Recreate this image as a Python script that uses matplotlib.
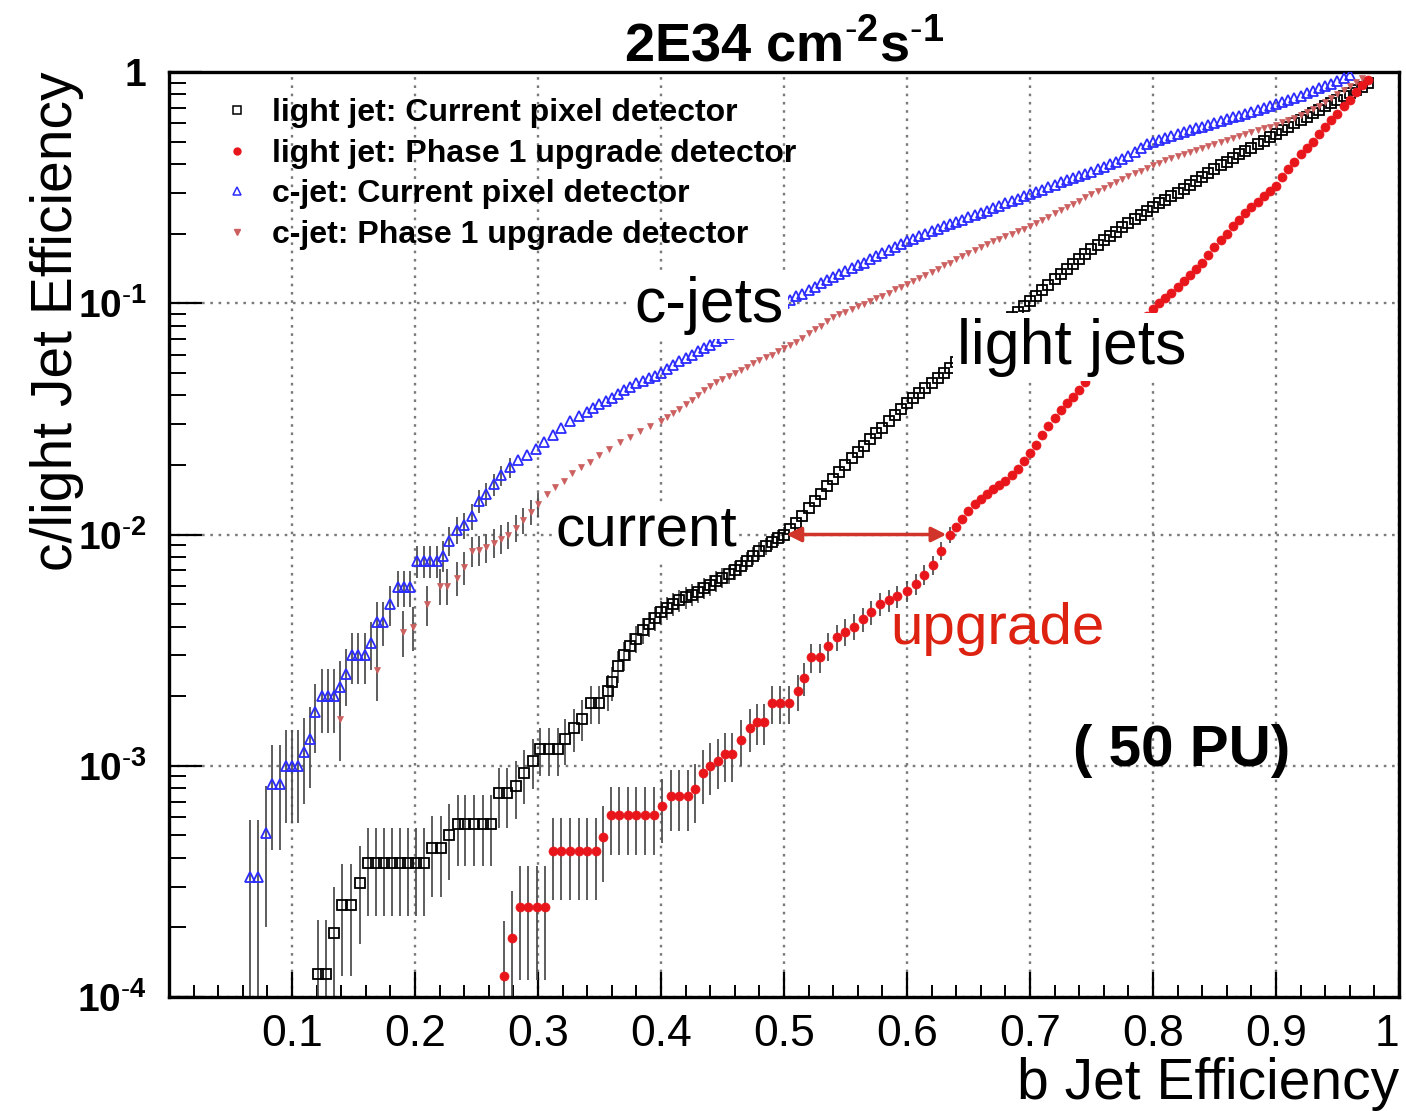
import numpy as np
import matplotlib
matplotlib.use("Agg")
import matplotlib.pyplot as plt
from matplotlib.lines import Line2D
from matplotlib.ticker import MultipleLocator, FixedLocator, FixedFormatter, LogLocator, NullFormatter

plt.rcParams['font.family'] = 'Liberation Sans'
plt.rcParams['mathtext.fontset'] = 'custom'
plt.rcParams['mathtext.rm'] = 'Liberation Sans'
plt.rcParams['mathtext.bf'] = 'Liberation Sans:bold'
plt.rcParams['mathtext.it'] = 'Liberation Sans:italic'

# ---------------------------------------------------------
# Data
# ---------------------------------------------------------
# light jet, current pixel detector (open squares)
light_cur_x = [0.121, 0.128, 0.134, 0.141, 0.148, 0.155, 0.162, 0.168, 0.175, 0.181,
               0.188, 0.194, 0.201, 0.207, 0.214, 0.221, 0.228, 0.235, 0.241, 0.248,
               0.255, 0.262, 0.268, 0.275, 0.282, 0.289, 0.296, 0.302, 0.309, 0.316,
               0.322, 0.329, 0.336, 0.343, 0.350, 0.357,
               0.360, 0.365, 0.370, 0.375, 0.380, 0.385, 0.390, 0.395, 0.400, 0.405,
               0.410, 0.415, 0.420, 0.425, 0.430, 0.435, 0.440, 0.445, 0.450, 0.455,
               0.460, 0.465, 0.470, 0.475, 0.480, 0.485, 0.490, 0.495, 0.500, 0.505,
               0.510, 0.515, 0.520, 0.525, 0.530, 0.535, 0.540, 0.545, 0.550, 0.555,
               0.560, 0.565, 0.570, 0.575, 0.580, 0.585, 0.590, 0.595, 0.600, 0.605,
               0.610, 0.615, 0.620, 0.625, 0.630, 0.635, 0.640, 0.645, 0.650, 0.655,
               0.660, 0.665, 0.670, 0.675, 0.680, 0.685, 0.690, 0.695, 0.700, 0.705,
               0.710, 0.715, 0.720, 0.725, 0.730, 0.735, 0.740, 0.745, 0.750, 0.755,
               0.760, 0.765, 0.770, 0.775, 0.780, 0.785, 0.790, 0.795, 0.800, 0.805,
               0.810, 0.815, 0.820, 0.825, 0.830, 0.835, 0.840, 0.845, 0.850, 0.855,
               0.860, 0.865, 0.870, 0.875, 0.880, 0.885, 0.890, 0.895, 0.900, 0.905,
               0.910, 0.915, 0.920, 0.925, 0.930, 0.935, 0.940, 0.945, 0.950, 0.955,
               0.960, 0.965, 0.970, 0.975]
light_cur_y = [1.26e-4, 1.26e-4, 1.9e-4, 2.5e-4, 2.5e-4, 3.1e-4, 3.8e-4, 3.8e-4, 3.8e-4, 3.8e-4,
               3.8e-4, 3.8e-4, 3.8e-4, 3.8e-4, 4.4e-4, 4.4e-4, 5.0e-4, 5.6e-4, 5.6e-4, 5.6e-4,
               5.6e-4, 5.6e-4, 7.6e-4, 7.6e-4, 8.2e-4, 9.3e-4, 1.05e-3, 1.18e-3, 1.18e-3, 1.18e-3,
               1.3e-3, 1.45e-3, 1.6e-3, 1.86e-3, 1.86e-3, 2.1e-3,
               2.3e-3, 2.7e-3, 3.0e-3, 3.3e-3, 3.55e-3, 3.85e-3, 4.1e-3, 4.35e-3, 4.6e-3, 4.8e-3,
               5.0e-3, 5.2e-3, 5.35e-3, 5.5e-3, 5.65e-3, 5.85e-3, 6.05e-3, 6.3e-3, 6.5e-3, 6.75e-3,
               7.0e-3, 7.3e-3, 7.7e-3, 8.1e-3, 8.5e-3, 8.9e-3, 9.3e-3, 9.7e-3, 1.0e-2, 1.06e-2,
               1.12e-2, 1.2e-2, 1.3e-2, 1.4e-2, 1.5e-2, 1.62e-2, 1.74e-2, 1.86e-2, 2.0e-2, 2.14e-2,
               2.28e-2, 2.42e-2, 2.58e-2, 2.74e-2, 2.9e-2, 3.1e-2, 3.3e-2, 3.5e-2, 3.7e-2, 3.9e-2,
               4.1e-2, 4.3e-2, 4.5e-2, 4.75e-2, 5.0e-2, 5.25e-2, 5.55e-2, 5.85e-2, 6.15e-2, 6.45e-2,
               6.8e-2, 7.1e-2, 7.5e-2, 7.9e-2, 8.3e-2, 8.7e-2, 9.2e-2, 9.7e-2, 0.102, 0.108,
               0.114, 0.12, 0.127, 0.134, 0.141, 0.148, 0.155, 0.163, 0.171, 0.179,
               0.187, 0.195, 0.204, 0.213, 0.222, 0.231, 0.24, 0.25, 0.26, 0.27,
               0.28, 0.29, 0.30, 0.312, 0.325, 0.337, 0.35, 0.365, 0.38, 0.395,
               0.41, 0.425, 0.44, 0.455, 0.47, 0.487, 0.505, 0.522, 0.54, 0.56,
               0.58, 0.6, 0.62, 0.642, 0.665, 0.687, 0.71, 0.735, 0.76, 0.785,
               0.81, 0.838, 0.865, 0.9]
light_cur_err = [9e-5, 9e-5, 1.1e-4, 1.27e-4, 1.27e-4, 1.4e-4, 1.56e-4, 1.56e-4, 1.56e-4, 1.56e-4,
                 1.56e-4, 1.56e-4, 1.56e-4, 1.56e-4, 1.68e-4, 1.68e-4, 1.8e-4, 1.9e-4, 1.9e-4, 1.9e-4,
                 1.9e-4, 1.9e-4, 2.2e-4, 2.2e-4, 2.3e-4, 2.45e-4, 2.6e-4, 2.75e-4, 2.75e-4, 2.75e-4,
                 2.9e-4, 3.05e-4, 3.2e-4, 3.45e-4, 3.45e-4, 3.7e-4,
                 3.85e-4, 4.2e-4, 4.4e-4, 4.6e-4, 4.75e-4, 5.0e-4, 5.1e-4, 5.3e-4, 5.4e-4, 5.5e-4,
                 5.7e-4, 5.8e-4, 5.85e-4, 5.9e-4, 6.0e-4, 6.1e-4, 6.2e-4, 6.35e-4, 6.45e-4, 6.6e-4,
                 6.7e-4, 6.85e-4, 7.0e-4, 7.2e-4, 7.4e-4, 7.55e-4, 7.7e-4, 7.9e-4, 8.0e-4]

# light jet, phase 1 upgrade detector (filled circles)
light_upg_x = [0.272, 0.279, 0.285, 0.292, 0.299, 0.306, 0.312, 0.319, 0.326, 0.333,
               0.340, 0.347, 0.353, 0.359, 0.366, 0.373, 0.380, 0.387, 0.394, 0.401,
               0.408, 0.415, 0.422, 0.428, 0.434, 0.440, 0.446, 0.452, 0.458, 0.465,
               0.472, 0.478, 0.484, 0.490, 0.497, 0.504, 0.511, 0.516, 0.522, 0.529,
               0.536, 0.543, 0.550, 0.557, 0.564, 0.571, 0.578, 0.585, 0.592, 0.600,
               0.607, 0.614, 0.621, 0.628, 0.635,
               0.640, 0.645, 0.650, 0.655, 0.660, 0.665, 0.670, 0.675, 0.680, 0.685,
               0.690, 0.695, 0.700, 0.705, 0.710, 0.715, 0.720, 0.725, 0.730, 0.735,
               0.740, 0.745, 0.750, 0.755, 0.760, 0.765, 0.770, 0.775, 0.780, 0.785,
               0.790, 0.795, 0.800, 0.805, 0.810, 0.815, 0.820, 0.825, 0.830, 0.835,
               0.840, 0.845, 0.850, 0.855, 0.860, 0.865, 0.870, 0.875, 0.880, 0.885,
               0.890, 0.895, 0.900, 0.905, 0.910, 0.915, 0.920, 0.925, 0.930, 0.935,
               0.940, 0.945, 0.950, 0.955, 0.960, 0.965, 0.970, 0.975]
light_upg_y = [1.23e-4, 1.8e-4, 2.44e-4, 2.44e-4, 2.44e-4, 2.44e-4, 4.3e-4, 4.3e-4, 4.3e-4, 4.3e-4,
               4.3e-4, 4.3e-4, 4.9e-4, 6.1e-4, 6.1e-4, 6.1e-4, 6.1e-4, 6.1e-4, 6.1e-4, 6.7e-4,
               7.4e-4, 7.4e-4, 7.4e-4, 7.9e-4, 9.3e-4, 1.0e-3, 1.05e-3, 1.12e-3, 1.12e-3, 1.29e-3,
               1.45e-3, 1.54e-3, 1.54e-3, 1.86e-3, 1.86e-3, 1.86e-3, 2.1e-3, 2.4e-3, 2.94e-3, 2.94e-3,
               3.3e-3, 3.6e-3, 3.8e-3, 4.0e-3, 4.3e-3, 4.6e-3, 5.0e-3, 5.2e-3, 5.4e-3, 5.7e-3,
               6.1e-3, 6.7e-3, 7.4e-3, 8.5e-3, 1.0e-2,
               1.08e-2, 1.17e-2, 1.26e-2, 1.35e-2, 1.42e-2, 1.5e-2, 1.57e-2, 1.63e-2, 1.7e-2, 1.8e-2,
               1.92e-2, 2.07e-2, 2.25e-2, 2.45e-2, 2.7e-2, 2.95e-2, 3.2e-2, 3.45e-2, 3.7e-2, 3.95e-2,
               4.2e-2, 4.55e-2, 4.9e-2, 5.25e-2, 5.6e-2, 6.0e-2, 6.4e-2, 6.85e-2, 7.3e-2, 7.8e-2,
               8.3e-2, 8.85e-2, 9.4e-2, 0.1, 0.105, 0.111, 0.118, 0.125, 0.132, 0.14,
               0.15, 0.162, 0.175, 0.187, 0.2, 0.215, 0.23, 0.245, 0.26, 0.275,
               0.29, 0.305, 0.32, 0.35, 0.38, 0.41, 0.44, 0.47, 0.5, 0.54,
               0.58, 0.62, 0.66, 0.71, 0.76, 0.82, 0.88, 0.92]
light_upg_err = [9e-5, 1.07e-4, 1.25e-4, 1.25e-4, 1.25e-4, 1.25e-4, 1.66e-4, 1.66e-4, 1.66e-4, 1.66e-4,
                 1.66e-4, 1.66e-4, 1.77e-4, 1.98e-4, 1.98e-4, 1.98e-4, 1.98e-4, 1.98e-4, 1.98e-4, 2.07e-4,
                 2.18e-4, 2.18e-4, 2.18e-4, 2.25e-4, 2.44e-4, 2.53e-4, 2.6e-4, 2.68e-4, 2.68e-4, 2.88e-4,
                 3.05e-4, 3.14e-4, 3.14e-4, 3.45e-4, 3.45e-4, 3.45e-4, 3.67e-4, 3.92e-4, 4.34e-4, 4.34e-4,
                 4.6e-4, 4.8e-4, 4.9e-4, 5.1e-4, 5.25e-4, 5.4e-4, 5.7e-4, 5.8e-4, 5.9e-4, 6.0e-4,
                 6.2e-4, 6.5e-4, 6.9e-4, 7.4e-4, 8.0e-4]

# c-jet, current pixel detector (open triangles)
c_cur_x = [0.066, 0.072, 0.079, 0.084, 0.090, 0.095, 0.100, 0.105, 0.110, 0.115,
           0.119, 0.124, 0.129, 0.134, 0.139, 0.144, 0.149, 0.154, 0.159, 0.164,
           0.169, 0.174, 0.180, 0.186, 0.191, 0.196, 0.202, 0.207, 0.212, 0.218,
           0.223, 0.228, 0.234, 0.240, 0.246, 0.252, 0.258, 0.264, 0.270, 0.277,
           0.284, 0.291, 0.298, 0.305, 0.312, 0.319, 0.326, 0.333, 0.340,
           0.345, 0.350, 0.355, 0.360, 0.365, 0.370, 0.375, 0.380, 0.385, 0.390,
           0.395, 0.400, 0.405, 0.410, 0.415, 0.420, 0.425, 0.430, 0.435, 0.440,
           0.445, 0.450, 0.455, 0.460, 0.465, 0.470, 0.475, 0.480, 0.485, 0.490,
           0.495, 0.500, 0.505, 0.510, 0.515, 0.520, 0.525, 0.530, 0.535, 0.540,
           0.545, 0.550, 0.555, 0.560, 0.565, 0.570, 0.575, 0.580, 0.585, 0.590,
           0.595, 0.600, 0.605, 0.610, 0.615, 0.620, 0.625, 0.630, 0.635, 0.640,
           0.645, 0.650, 0.655, 0.660, 0.665, 0.670, 0.675, 0.680, 0.685, 0.690,
           0.695, 0.700, 0.705, 0.710, 0.715, 0.720, 0.725, 0.730, 0.735, 0.740,
           0.745, 0.750, 0.755, 0.760, 0.765, 0.770, 0.775, 0.780, 0.785, 0.790,
           0.795, 0.800, 0.805, 0.810, 0.815, 0.820, 0.825, 0.830, 0.835, 0.840,
           0.845, 0.850, 0.855, 0.860, 0.865, 0.870, 0.875, 0.880, 0.885, 0.890,
           0.895, 0.900, 0.905, 0.910, 0.915, 0.920, 0.925, 0.930, 0.935, 0.940,
           0.945, 0.950, 0.955, 0.960]
c_cur_y = [3.3e-4, 3.3e-4, 5.1e-4, 8.3e-4, 8.3e-4, 1.0e-3, 1.0e-3, 1.0e-3, 1.15e-3, 1.3e-3,
           1.7e-3, 2.0e-3, 2.0e-3, 2.0e-3, 2.2e-3, 2.5e-3, 3.0e-3, 3.0e-3, 3.0e-3, 3.4e-3,
           4.2e-3, 4.2e-3, 5.0e-3, 5.9e-3, 5.9e-3, 5.9e-3, 7.7e-3, 7.7e-3, 7.7e-3, 7.7e-3,
           8.1e-3, 9.4e-3, 1.05e-2, 1.1e-2, 1.2e-2, 1.4e-2, 1.5e-2, 1.65e-2, 1.8e-2, 1.95e-2,
           2.1e-2, 2.2e-2, 2.35e-2, 2.5e-2, 2.7e-2, 2.9e-2, 3.1e-2, 3.25e-2, 3.4e-2,
           3.52e-2, 3.65e-2, 3.78e-2, 3.9e-2, 4.05e-2, 4.2e-2, 4.35e-2, 4.5e-2, 4.62e-2, 4.75e-2,
           4.87e-2, 5.0e-2, 5.2e-2, 5.4e-2, 5.6e-2, 5.8e-2, 6.0e-2, 6.2e-2, 6.4e-2, 6.6e-2,
           6.85e-2, 7.1e-2, 7.35e-2, 7.6e-2, 7.85e-2, 8.1e-2, 8.4e-2, 8.7e-2, 9.0e-2, 9.3e-2,
           9.65e-2, 0.1, 0.103, 0.107, 0.11, 0.114, 0.118, 0.122, 0.126, 0.13,
           0.134, 0.138, 0.142, 0.146, 0.15, 0.155, 0.16, 0.165, 0.17, 0.175,
           0.18, 0.185, 0.19, 0.195, 0.2, 0.205, 0.21, 0.215, 0.22, 0.225,
           0.23, 0.235, 0.24, 0.245, 0.251, 0.258, 0.264, 0.27, 0.276, 0.283,
           0.29, 0.296, 0.303, 0.31, 0.318, 0.325, 0.333, 0.34, 0.348, 0.355,
           0.363, 0.37, 0.38, 0.39, 0.4, 0.41, 0.42, 0.435, 0.45, 0.47,
           0.49, 0.5, 0.51, 0.52, 0.53, 0.54, 0.55, 0.56, 0.57, 0.58,
           0.59, 0.6, 0.612, 0.624, 0.636, 0.648, 0.66, 0.673, 0.686, 0.7,
           0.715, 0.73, 0.745, 0.76, 0.775, 0.79, 0.81, 0.83, 0.85, 0.87,
           0.89, 0.915, 0.94, 0.97]
c_cur_err = [2.5e-4, 2.5e-4, 3.1e-4, 3.96e-4, 3.96e-4, 4.34e-4, 4.34e-4, 4.34e-4, 4.66e-4, 4.95e-4,
             5.66e-4, 6.1e-4, 6.1e-4, 6.1e-4, 6.4e-4, 6.9e-4, 7.5e-4, 7.5e-4, 7.5e-4, 8.0e-4,
             8.9e-4, 8.9e-4, 9.7e-4, 1.05e-3, 1.05e-3, 1.05e-3, 1.2e-3, 1.2e-3, 1.2e-3, 1.2e-3,
             1.24e-3, 1.33e-3, 1.4e-3, 1.44e-3, 1.5e-3, 1.6e-3, 1.7e-3, 1.76e-3, 1.84e-3, 1.92e-3]

# c-jet, phase 1 upgrade detector (small down triangles)
c_upg_x = [0.139, 0.169, 0.190, 0.198, 0.210, 0.220, 0.226, 0.234, 0.240, 0.246,
           0.252, 0.258, 0.264, 0.270, 0.276, 0.282, 0.288, 0.294, 0.300, 0.307,
           0.314, 0.321, 0.328, 0.335, 0.342, 0.350, 0.358, 0.367, 0.375, 0.383,
           0.391, 0.400,
           0.405, 0.410, 0.415, 0.420, 0.425, 0.430, 0.435, 0.440, 0.445, 0.450,
           0.455, 0.460, 0.465, 0.470, 0.475, 0.480, 0.485, 0.490, 0.495, 0.500,
           0.505, 0.510, 0.515, 0.520, 0.525, 0.530, 0.535, 0.540, 0.545, 0.550,
           0.555, 0.560, 0.565, 0.570, 0.575, 0.580, 0.585, 0.590, 0.595, 0.600,
           0.605, 0.610, 0.615, 0.620, 0.625, 0.630, 0.635, 0.640, 0.645, 0.650,
           0.655, 0.660, 0.665, 0.670, 0.675, 0.680, 0.685, 0.690, 0.695, 0.700,
           0.705, 0.710, 0.715, 0.720, 0.725, 0.730, 0.735, 0.740, 0.745, 0.750,
           0.755, 0.760, 0.765, 0.770, 0.775, 0.780, 0.785, 0.790, 0.795, 0.800,
           0.805, 0.810, 0.815, 0.820, 0.825, 0.830, 0.835, 0.840, 0.845, 0.850,
           0.855, 0.860, 0.865, 0.870, 0.875, 0.880, 0.885, 0.890, 0.895, 0.900,
           0.905, 0.910, 0.915, 0.920, 0.925, 0.930, 0.935, 0.940, 0.945, 0.950,
           0.955, 0.960, 0.965, 0.970]
c_upg_y = [1.6e-3, 2.6e-3, 3.8e-3, 4.0e-3, 5.0e-3, 6.0e-3, 6.0e-3, 6.5e-3, 7.2e-3, 8.5e-3,
           8.6e-3, 8.8e-3, 9.2e-3, 9.6e-3, 1.0e-2, 1.07e-2, 1.15e-2, 1.25e-2, 1.35e-2, 1.5e-2,
           1.6e-2, 1.7e-2, 1.85e-2, 1.95e-2, 2.05e-2, 2.2e-2, 2.35e-2, 2.5e-2, 2.65e-2, 2.8e-2,
           2.95e-2, 3.1e-2,
           3.22e-2, 3.35e-2, 3.5e-2, 3.65e-2, 3.82e-2, 4.0e-2, 4.2e-2, 4.4e-2, 4.55e-2, 4.7e-2,
           4.85e-2, 5.0e-2, 5.15e-2, 5.3e-2, 5.5e-2, 5.7e-2, 5.85e-2, 6.0e-2, 6.2e-2, 6.4e-2,
           6.6e-2, 6.8e-2, 7.1e-2, 7.4e-2, 7.7e-2, 8.0e-2, 8.35e-2, 8.7e-2, 8.95e-2, 9.2e-2,
           9.45e-2, 9.7e-2, 9.95e-2, 0.102, 0.105, 0.108, 0.111, 0.115, 0.118, 0.121,
           0.125, 0.129, 0.133, 0.137, 0.141, 0.146, 0.15, 0.155, 0.16, 0.165,
           0.17, 0.175, 0.18, 0.185, 0.19, 0.195, 0.2, 0.205, 0.21, 0.216,
           0.223, 0.23, 0.237, 0.245, 0.252, 0.26, 0.269, 0.278, 0.287, 0.296,
           0.305, 0.315, 0.325, 0.335, 0.345, 0.355, 0.365, 0.375, 0.385, 0.395,
           0.405, 0.415, 0.425, 0.435, 0.443, 0.45, 0.46, 0.47, 0.48, 0.49,
           0.5, 0.51, 0.52, 0.53, 0.54, 0.55, 0.56, 0.57, 0.58, 0.59,
           0.605, 0.62, 0.635, 0.65, 0.67, 0.69, 0.715, 0.74, 0.77, 0.8,
           0.835, 0.87, 0.905, 0.94]
c_upg_err = [5.5e-4, 7e-4, 8.5e-4, 8.7e-4, 9.7e-4, 1.06e-3, 1.06e-3, 1.1e-3, 1.17e-3, 1.27e-3,
             1.27e-3, 1.29e-3, 1.32e-3, 1.35e-3, 1.37e-3, 1.42e-3, 1.47e-3, 1.54e-3, 1.6e-3]

legend_labels = ["light jet: Current pixel detector",
                 "light jet: Phase 1 upgrade detector",
                 "c-jet: Current pixel detector",
                 "c-jet: Phase 1 upgrade detector"]

x_ticks = [0.1, 0.2, 0.3, 0.4, 0.5, 0.6, 0.7, 0.8, 0.9, 1.0]
x_tick_labels = ["0.1", "0.2", "0.3", "0.4", "0.5", "0.6", "0.7", "0.8", "0.9", "1"]
y_ticks = [1e-4, 1e-3, 1e-2, 1e-1, 1]
y_tick_labels = [r"$\mathbf{10^{\text{-}4}}$", r"$\mathbf{10^{\text{-}3}}$",
                 r"$\mathbf{10^{\text{-}2}}$", r"$\mathbf{10^{\text{-}1}}$", r"$\mathbf{1}$"]

# ---------------------------------------------------------
# Plot
# ---------------------------------------------------------
fig = plt.figure(figsize=(14.06, 11.11), dpi=100)
ax = fig.add_axes([0.1202, 0.1026, 0.8748, 0.8326])
ax.set_xlim(0, 1)
ax.set_yscale('log')
ax.set_ylim(1e-4, 1)

ecol = '#505050'


def full_err(x, err):
    e = np.zeros(len(x))
    e[:len(err)] = err
    return e


series = [
    (light_cur_x, light_cur_y, light_cur_err, dict(marker='s', mfc='none', mec='black', ms=7, mew=1.3)),
    (light_upg_x, light_upg_y, light_upg_err, dict(marker='o', mfc='#e8161b', mec='#e8161b', ms=6.5, mew=0.5)),
    (c_cur_x, c_cur_y, c_cur_err, dict(marker='^', mfc='none', mec='#2b2bff', ms=7, mew=1.3)),
    (c_upg_x, c_upg_y, c_upg_err, dict(marker='v', mfc='#cc5f5f', mec='#cc5f5f', ms=5, mew=0.5)),
]

for x, y, err, style in series:
    ax.errorbar(x, y, yerr=full_err(x, err), fmt='none', ecolor=ecol,
                elinewidth=1.3, capsize=0, zorder=2)
for x, y, err, style in series:
    ax.plot(x, y, ls='none', zorder=3, **style)

# grid and axes in ROOT style
ax.set_axisbelow(True)
ax.grid(True, which='major', color='#7a7a7a', linestyle=(0, (1.1, 2.4)), linewidth=1.7)
for sp in ax.spines.values():
    sp.set_linewidth(2.4)

ax.xaxis.set_major_locator(FixedLocator(x_ticks))
ax.xaxis.set_major_formatter(FixedFormatter(x_tick_labels))
ax.xaxis.set_minor_locator(MultipleLocator(0.02))
ax.yaxis.set_major_locator(FixedLocator(y_ticks))
ax.yaxis.set_major_formatter(FixedFormatter(y_tick_labels))
ax.yaxis.set_minor_locator(LogLocator(base=10, subs=np.arange(2, 10)))
ax.yaxis.set_minor_formatter(NullFormatter())

ax.tick_params(axis='x', which='major', direction='in', length=18, width=1.6,
               labelsize=32, pad=12)
ax.tick_params(axis='x', which='minor', direction='in', length=9, width=1.4)
ax.tick_params(axis='y', which='major', direction='in', length=24, width=1.6,
               labelsize=28, pad=16)
ax.tick_params(axis='y', which='minor', direction='in', length=12, width=1.4)

ax.set_xlabel("b Jet Efficiency", fontsize=41, loc='right', labelpad=2)
ax.set_ylabel("c/light Jet Efficiency", fontsize=41, loc='top')
ax.yaxis.set_label_coords(-0.069, 1.0)
ax.set_title(r"$\mathbf{2E34\ cm^{\text{-}2}s^{\text{-}1}}$", fontsize=39, pad=6)

# legend
handles = [
    Line2D([], [], ls='none', marker='s', mfc='none', mec='black', ms=6, mew=1.1),
    Line2D([], [], ls='none', marker='o', mfc='#e8161b', mec='#e8161b', ms=5),
    Line2D([], [], ls='none', marker='^', mfc='none', mec='#2b2bff', ms=6, mew=1.1),
    Line2D([], [], ls='none', marker='v', mfc='#cc5f5f', mec='#cc5f5f', ms=4.5),
]
ax.legend(handles, legend_labels, loc='upper left', bbox_to_anchor=(0.042, 0.9715),
          frameon=False, prop={'weight': 'bold', 'size': 23}, handlelength=1.0,
          handletextpad=0.6, labelspacing=0.33, borderpad=0, borderaxespad=0)

# annotations
box = dict(facecolor='white', edgecolor='none', pad=3)
ax.text(0.439, 0.098, "c-jets", fontsize=45, ha='center', va='center', bbox=box, zorder=5)
ax.text(0.734, 0.0645, "light jets", fontsize=45, ha='center', va='center', bbox=box, zorder=5)
ax.text(0.314, 8.96e-3, "current", fontsize=42, ha='left', va='baseline',
        bbox=dict(facecolor='white', edgecolor='none', pad=1), zorder=5)
ax.text(0.586, 3.37e-3, "upgrade", fontsize=42, ha='left', va='baseline', color='#dd2211', zorder=5)
ax.text(0.735, 1.0e-3, "( 50 PU)", fontsize=42, fontweight='bold', ha='left', va='baseline', zorder=5)
ax.annotate("", xy=(0.632, 1e-2), xytext=(0.502, 1e-2),
            arrowprops=dict(arrowstyle='<|-|>', color='#d0342a', lw=2.5, mutation_scale=22,
                            shrinkA=0, shrinkB=0), zorder=6)

# keep the last x label "1" inside the picture
fig.canvas.draw()
ax.get_xticklabels()[-1].set_horizontalalignment('right')

fig.savefig("out.png", dpi=100)
